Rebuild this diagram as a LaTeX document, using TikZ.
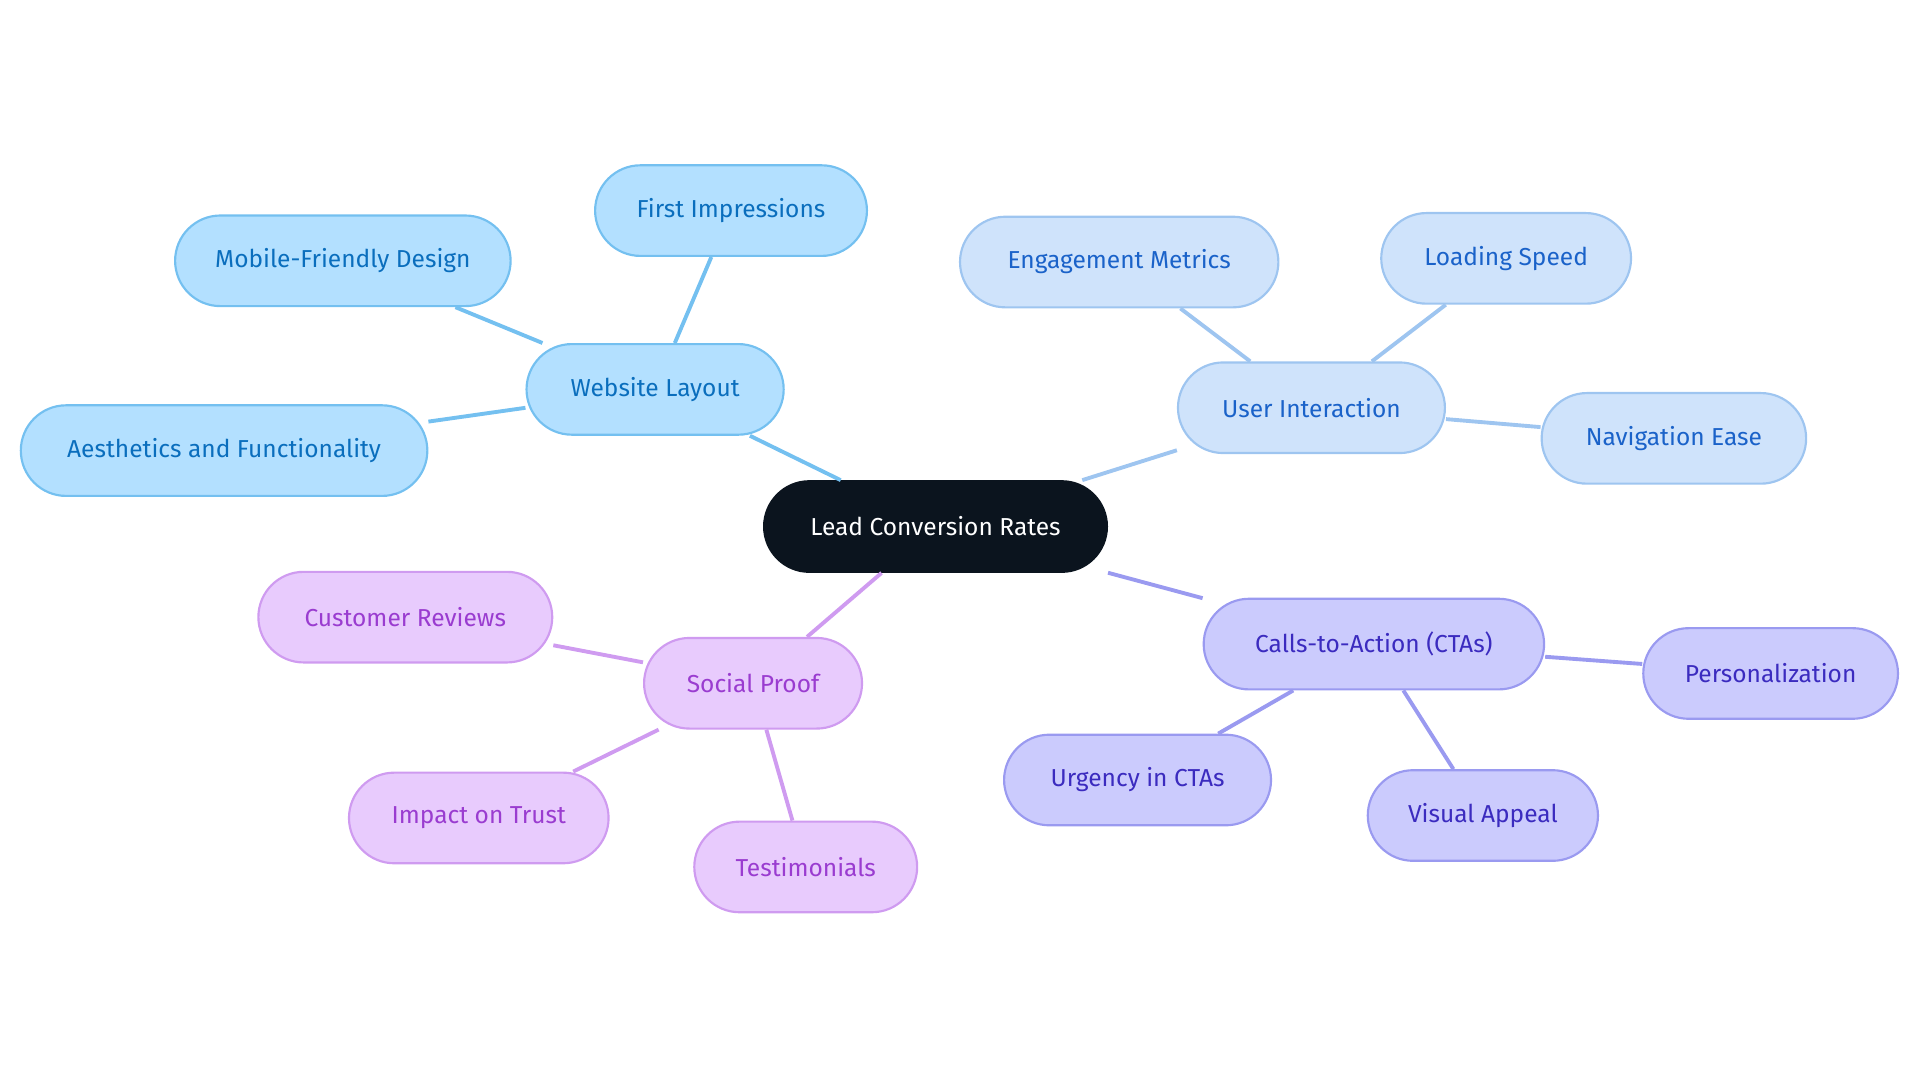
\documentclass[tikz,border=0pt]{standalone}
\usepackage{fontspec}
\setmainfont{Fira Sans}
\usetikzlibrary{positioning}
\definecolor{rootfill}{HTML}{0B141E}
\definecolor{webfill}{HTML}{B3E0FF}\definecolor{webline}{HTML}{74C0F0}\definecolor{webtext}{HTML}{0A6EBD}
\definecolor{userfill}{HTML}{CFE3FB}\definecolor{userline}{HTML}{9EC5F0}\definecolor{usertext}{HTML}{1A62C9}
\definecolor{ctafill}{HTML}{CBCBFD}\definecolor{ctaline}{HTML}{9A9AF0}\definecolor{ctatext}{HTML}{3B2BBF}
\definecolor{socfill}{HTML}{E8CBFD}\definecolor{socline}{HTML}{CF9BF0}\definecolor{soctext}{HTML}{9A3CD0}

\begin{document}
\begin{tikzpicture}[
	box/.style={rounded corners=0.37cm, minimum height=0.74cm, inner sep=0pt, font=\fontsize{5.7}{7}\selectfont, line width=0.5pt},
	root/.style={box, fill=rootfill, draw=rootfill, text=white},
	web/.style={box, fill=webfill, draw=webline, text=webtext},
	user/.style={box, fill=userfill, draw=userline, text=usertext},
	cta/.style={box, fill=ctafill, draw=ctaline, text=ctatext},
	soc/.style={box, fill=socfill, draw=socline, text=soctext}]
				
				\useasboundingbox (0,0) rectangle (15.68,-8.84);
				
				\node[root, minimum width=2.80cm] (R) at (7.64,-4.30) {Lead Conversion Rates};
				
				\node[web, minimum width=2.10cm] (W) at (5.35,-3.18) {Website Layout};
				\node[web, minimum width=2.22cm] (W1) at (5.97,-1.72) {First Impressions};
				\node[web, minimum width=2.74cm] (W2) at (2.80,-2.13) {Mobile-Friendly Design};
				\node[web, minimum width=3.32cm] (W3) at (1.83,-3.68) {Aesthetics and Functionality};
				
				\node[user, minimum width=2.18cm] (U) at (10.71,-3.33) {User Interaction};
				\node[user, minimum width=2.60cm] (U1) at (9.14,-2.14) {Engagement Metrics};
				\node[user, minimum width=2.04cm] (U2) at (12.30,-2.11) {Loading Speed};
				\node[user, minimum width=2.16cm] (U3) at (13.67,-3.58) {Navigation Ease};
				
				\node[cta, minimum width=2.78cm] (C) at (11.22,-5.26) {Calls-to-Action (CTAs)};
				\node[cta, minimum width=2.08cm] (C1) at (14.46,-5.50) {Personalization};
				\node[cta, minimum width=2.18cm] (C2) at (9.29,-6.37) {Urgency in CTAs};
				\node[cta, minimum width=1.88cm] (C3) at (12.11,-6.66) {Visual Appeal};
				
				\node[soc, minimum width=1.78cm] (S) at (6.15,-5.58) {Social Proof};
				\node[soc, minimum width=2.40cm] (S1) at (3.31,-5.04) {Customer Reviews};
				\node[soc, minimum width=2.12cm] (S2) at (3.91,-6.68) {Impact on Trust};
				\node[soc, minimum width=1.82cm] (S3) at (6.58,-7.08) {Testimonials};
				
				\begin{scope}[on background layer/.try, line width=0.9pt]
				\draw[webline] (R) -- (W);
				\foreach \n in {W1,W2,W3} \draw[webline] (W) -- (\n);
				\draw[userline] (R) -- (U);
				\foreach \n in {U1,U2,U3} \draw[userline] (U) -- (\n);
				\draw[ctaline] (R) -- (C);
				\foreach \n in {C1,C2,C3} \draw[ctaline] (C) -- (\n);
				\draw[socline] (R) -- (S);
				\foreach \n in {S1,S2,S3} \draw[socline] (S) -- (\n);
				\end{scope}
				
			\end{tikzpicture}
\end{document}
